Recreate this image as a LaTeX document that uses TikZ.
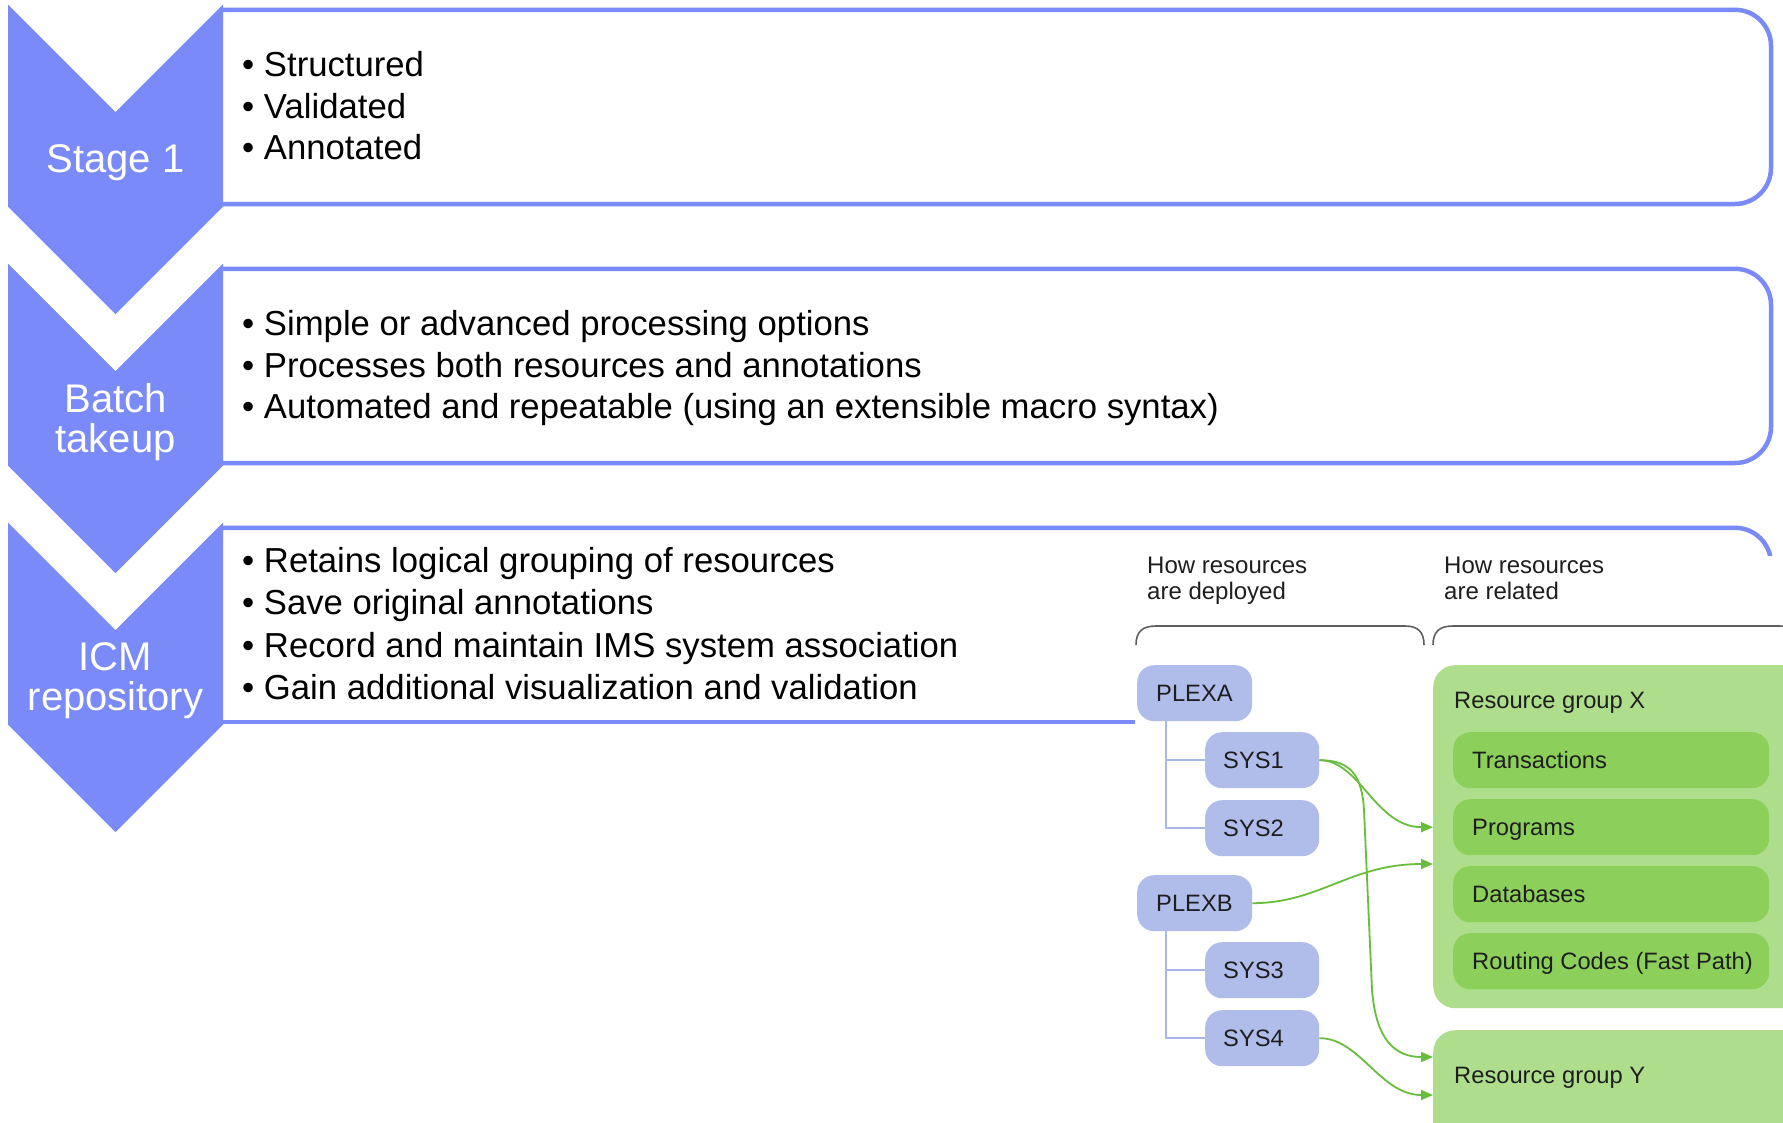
\documentclass[tikz,border=0pt]{standalone}
\usepackage{fontspec}
\setmainfont{Liberation Sans}
\usetikzlibrary{arrows.meta}
\definecolor{chev}{RGB}{122,138,249}
\definecolor{lav}{RGB}{176,189,234}
\definecolor{lavline}{RGB}{168,182,232}
\definecolor{glight}{RGB}{174,222,139}
\definecolor{gmid}{RGB}{140,207,90}
\definecolor{garrow}{RGB}{104,190,60}
\definecolor{bracecol}{RGB}{95,95,95}
\definecolor{dtext}{RGB}{30,30,30}
\tikzset{
  chevshape/.style={fill=chev},
  boxline/.style={draw=chev, line width=4.5pt, rounded corners=36pt},
  bullet/.style={anchor=base west, inner sep=0pt, font=\fontsize{34.7}{41}\selectfont, text=black},
  stagelabel/.style={text=white, font=\fontsize{40}{40}\selectfont, align=center, inner sep=0pt},
  lavbox/.style={fill=lav, rounded corners=17pt, anchor=north west, minimum height=56pt, inner sep=0pt},
  gbox/.style={fill=gmid, rounded corners=17pt, anchor=north west, minimum width=316pt, minimum height=56pt, inner sep=0pt},
  gbig/.style={fill=glight, rounded corners=22pt, anchor=north west, minimum width=372pt, inner sep=0pt},
  dlabel/.style={anchor=west, inner sep=0pt, text height=17pt, text depth=0pt, font=\fontsize{23.7}{26}\selectfont, text=dtext},
  heading/.style={anchor=north west, inner sep=0pt, align=left, font=\fontsize{24}{25.5}\selectfont, text=dtext},
  treeline/.style={draw=lavline, line width=2pt},
  garr/.style={draw=garrow, line width=1.8pt, -{Triangle[length=12pt,width=10pt]}},
  bracket/.style={draw=bracecol, line width=1.6pt}
}
\begin{document}
\begin{tikzpicture}[x=1pt,y=-1pt]
\clip (0,0) rectangle (1783,1122);
\fill[white] (0,0) rectangle (1783,1122);

% ---------- boxes ----------
\draw[boxline] (223,9.8) -- (1771,9.8) -- (1771,204) -- (223,204);
\draw[boxline] (223,268.8) -- (1771,268.8) -- (1771,463) -- (223,463);
\begin{scope}
  \clip (223,0) rectangle (1783,555);
  \draw[boxline] (223,527.8) -- (1771,527.8) -- (1771,722) -- (1135,722);
\end{scope}
\draw[boxline] (223,722) -- (1135,722);

% ---------- chevrons ----------
\foreach \k in {0,1,2}{
  \begin{scope}[shift={(0,259*\k)}]
    \fill[chevshape] (8,4.5) -- (115.5,112) -- (223,4.5) -- (223,206.5) -- (115.5,314) -- (8,206.5) -- cycle;
  \end{scope}
}
\node[stagelabel, anchor=base] (s1) at (115.5,172) {Stage 1};
\node[stagelabel, anchor=north] (s2) at (115.5,383) {Batch\\takeup};
\node[stagelabel, anchor=north] (s3) at (115.5,642) {ICM\\repository};

% ---------- bullets ----------
\node[bullet] (b11) at (242,76) {• Structured};
\node[bullet] (b12) at (242,118) {• Validated};
\node[bullet] (b13) at (242,159) {• Annotated};

\node[bullet] (b21) at (242,335) {• Simple or advanced processing options};
\node[bullet] (b22) at (242,377) {• Processes both resources and annotations};
\node[bullet] (b23) at (242,418) {• Automated and repeatable (using an extensible macro syntax)};

\node[bullet] (b31) at (242,572) {• Retains logical grouping of resources};
\node[bullet] (b32) at (242,614) {• Save original annotations};
\node[bullet] (b33) at (242,657) {• Record and maintain IMS system association};
\node[bullet] (b34) at (242,699) {• Gain additional visualization and validation};

% ---------- right diagram ----------
\node[heading] (h1) at (1147,557) {How resources\\are deployed};
\node[heading] (h2) at (1444,557) {How resources\\are related};

\draw[bracket] (1136,645) .. controls (1136,632) and (1142,626) .. (1156,626) -- (1405,626) .. controls (1418,626) and (1424,632) .. (1424,645);
\draw[bracket] (1433,645) .. controls (1433,632) and (1439,626) .. (1453,626) -- (1780,626) .. controls (1793,626) and (1799,632) .. (1799,645);

% deployed tree
\node[lavbox, minimum width=115pt] (plexa) at (1137,665) {};
\node[dlabel] (plexaT) at ([xshift=19pt]plexa.west) {PLEXA};
\node[lavbox, minimum width=114pt] (sys1) at (1205,732) {};
\node[dlabel] (sys1T) at ([xshift=18pt]sys1.west) {SYS1};
\node[lavbox, minimum width=114pt] (sys2) at (1205,800) {};
\node[dlabel] (sys2T) at ([xshift=18pt]sys2.west) {SYS2};
\node[lavbox, minimum width=115pt] (plexb) at (1137,875) {};
\node[dlabel] (plexbT) at ([xshift=19pt]plexb.west) {PLEXB};
\node[lavbox, minimum width=114pt] (sys3) at (1205,942) {};
\node[dlabel] (sys3T) at ([xshift=18pt]sys3.west) {SYS3};
\node[lavbox, minimum width=114pt] (sys4) at (1205,1010) {};
\node[dlabel] (sys4T) at ([xshift=18pt]sys4.west) {SYS4};

\draw[treeline] ([xshift=29pt]plexa.south west) |- (sys1.west);
\draw[treeline] ([xshift=29pt]plexa.south west) |- (sys2.west);
\draw[treeline] ([xshift=29pt]plexb.south west) |- (sys3.west);
\draw[treeline] ([xshift=29pt]plexb.south west) |- (sys4.west);

% related groups
\node[gbig, minimum height=343pt] (rgx) at (1433,665) {};
\node[dlabel] (rgxT) at (1454,699.5) {Resource group X};
\node[gbox] (trans) at (1453,732) {};
\node[dlabel] (transT) at ([xshift=19pt]trans.west) {Transactions};
\node[gbox] (prog) at (1453,799) {};
\node[dlabel] (progT) at ([xshift=19pt]prog.west) {Programs};
\node[gbox] (dbs) at (1453,866) {};
\node[dlabel] (dbsT) at ([xshift=19pt]dbs.west) {Databases};
\node[gbox] (rout) at (1453,933) {};
\node[dlabel] (routT) at ([xshift=19pt]rout.west) {Routing Codes (Fast Path)};

\node[gbig, minimum height=130pt] (rgy) at (1433,1030) {};
\node[dlabel] (rgyT) at (1454,1074.5) {Resource group Y};

% arrows
\coordinate (inA) at (rgx.west |- prog.center);
\coordinate (inB) at (1433,864);
\coordinate (inC) at (1433,1057);
\coordinate (inD) at (1433,1095);
\draw[garr] (sys1.east) .. controls (1360,760) and (1375,827) .. (inA);
\draw[garr] (sys1.east) .. controls (1350,760) and (1362,775) .. (1364,810) -- (1372,990) .. controls (1376,1040) and (1395,1057) .. (inC);
\draw[garr] (plexb.east) .. controls (1320,903) and (1350,864) .. (inB);
\draw[garr] (sys4.east) .. controls (1360,1038) and (1380,1095) .. (inD);
\end{tikzpicture}
\end{document}
